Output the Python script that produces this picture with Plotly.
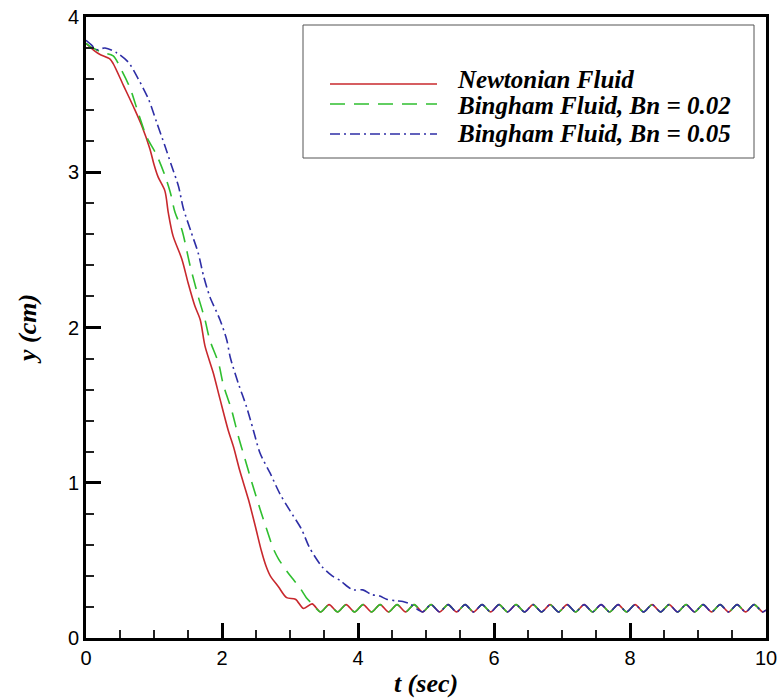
import plotly.graph_objects as go

# ---- data ----
newt_t = [0.0, 0.13, 0.2, 0.35, 0.4, 0.55, 0.7, 0.82, 0.94, 1.0, 1.06, 1.16, 1.21, 1.28,
          1.41, 1.5, 1.6, 1.68, 1.75, 1.87, 1.97, 2.09, 2.17, 2.26, 2.39, 2.49, 2.58,
          2.65, 2.71, 2.83, 2.95, 3.08, 3.2, 3.325]
newt_y = [3.83, 3.78, 3.76, 3.73, 3.70, 3.56, 3.42, 3.30, 3.15, 3.05, 2.97, 2.88, 2.74, 2.59,
          2.44, 2.29, 2.14, 2.05, 1.88, 1.71, 1.54, 1.34, 1.23, 1.08, 0.89, 0.72, 0.56,
          0.46, 0.40, 0.33, 0.26, 0.25, 0.19, 0.22]

bn02_t = [0.0, 0.1, 0.25, 0.4, 0.52, 0.65, 0.77, 0.89, 1.04, 1.16, 1.24, 1.31, 1.41, 1.53,
          1.65, 1.75, 1.82, 1.95, 2.02, 2.14, 2.24, 2.34, 2.44, 2.56, 2.68, 2.75, 2.83,
          2.97, 3.06, 3.15, 3.24, 3.325]
bn02_y = [3.83, 3.80, 3.77, 3.75, 3.66, 3.54, 3.38, 3.23, 3.11, 2.98, 2.87, 2.74, 2.63, 2.40,
          2.20, 2.05, 1.92, 1.77, 1.63, 1.47, 1.30, 1.15, 1.00, 0.83, 0.67, 0.58, 0.51,
          0.42, 0.37, 0.32, 0.26, 0.22]

bn05_t = [0.0, 0.08, 0.15, 0.28, 0.45, 0.62, 0.77, 0.92, 1.04, 1.16, 1.26, 1.36, 1.43, 1.55,
          1.65, 1.73, 1.82, 1.97, 2.07, 2.12, 2.24, 2.36, 2.46, 2.56, 2.71, 2.85, 3.0,
          3.17, 3.29, 3.47, 3.62, 3.74, 3.85, 3.93, 4.07, 4.2, 4.32, 4.42, 4.55, 4.66,
          4.76, 4.89]
bn05_y = [3.85, 3.82, 3.79, 3.80, 3.77, 3.71, 3.60, 3.47, 3.32, 3.17, 3.04, 2.91, 2.77, 2.61,
          2.48, 2.33, 2.20, 2.05, 1.92, 1.81, 1.64, 1.49, 1.34, 1.19, 1.06, 0.93, 0.82,
          0.70, 0.58, 0.46, 0.40, 0.37, 0.33, 0.31, 0.31, 0.28, 0.27, 0.25, 0.24, 0.235,
          0.22, 0.18]

# common settled oscillation (peaks and troughs)
tail_t = [3.45, 3.575, 3.7, 3.825, 3.95, 4.075, 4.2, 4.325, 4.45, 4.575, 4.7, 4.825,
          4.95, 5.075, 5.2, 5.325, 5.45, 5.575, 5.7, 5.825, 5.95, 6.075, 6.2, 6.325,
          6.45, 6.575, 6.7, 6.825, 6.95, 7.075, 7.2, 7.325, 7.45, 7.575, 7.7, 7.825,
          7.95, 8.075, 8.2, 8.325, 8.45, 8.575, 8.7, 8.825, 8.95, 9.075, 9.2, 9.325,
          9.45, 9.575, 9.7, 9.825, 9.95, 10.0]
tail_y = [0.168, 0.215, 0.168, 0.215, 0.168, 0.215, 0.168, 0.215, 0.168, 0.215, 0.168, 0.215,
          0.168, 0.215, 0.168, 0.215, 0.168, 0.215, 0.168, 0.215, 0.168, 0.215, 0.168, 0.215,
          0.168, 0.215, 0.168, 0.215, 0.168, 0.215, 0.168, 0.215, 0.168, 0.215, 0.168, 0.215,
          0.168, 0.215, 0.168, 0.215, 0.168, 0.215, 0.168, 0.215, 0.168, 0.215, 0.168, 0.215,
          0.168, 0.215, 0.168, 0.215, 0.168, 0.18]

series_names = ["Newtonian Fluid", "Bingham Fluid, Bn = 0.02", "Bingham Fluid, Bn = 0.05"]
tail_start = [3.45, 3.45, 4.95]

x_tick_vals = [0, 2, 4, 6, 8, 10]
y_tick_vals = [0, 1, 2, 3, 4]


def join_tail(t, y, start):
    tt = list(t)
    yy = list(y)
    for tv, yv in zip(tail_t, tail_y):
        if tv >= start:
            tt.append(tv)
            yy.append(yv)
    return tt, yy


colors = ["#c8282d", "#2fbf2f", "#2e2ea6"]
dashes = ["solid", "15px,9px", "10px,4px,2px,4px"]
raw = [(newt_t, newt_y), (bn02_t, bn02_y), (bn05_t, bn05_y)]

fig = go.Figure()
for (t, y), name, st, c, d in zip(raw, series_names, tail_start, colors, dashes):
    tt, yy = join_tail(t, y, st)
    fig.add_trace(go.Scatter(
        x=tt, y=yy, mode="lines", name=name,
        line=dict(color=c, width=1.6, dash=d, shape="spline", smoothing=0.8),
        showlegend=False,
    ))

# ---- manual legend (long line samples as in the reference) ----
X0, X1, Y0, Y1 = 86.0, 766.0, 638.0, 17.0


def px(x):
    return (x - X0) / (X1 - X0)


def py(y):
    return (Y0 - y) / (Y0 - Y1)


shapes = [dict(type="rect", xref="paper", yref="paper",
               x0=px(303), x1=px(754), y0=py(158), y1=py(25),
               line=dict(color="#555555", width=1), fillcolor="white", layer="above")]
annotations = []
line_rows = [84, 104, 134]
text_rows = [79, 106, 134]
for name, c, d, lr, tr in zip(series_names, colors, dashes, line_rows, text_rows):
    shapes.append(dict(type="line", xref="paper", yref="paper",
                       x0=px(330), x1=px(437), y0=py(lr), y1=py(lr),
                       line=dict(color=c, width=1.6, dash=d), layer="above"))
    annotations.append(dict(xref="paper", yref="paper", x=px(455), y=py(tr),
                            xanchor="left", yanchor="middle", showarrow=False,
                            text="<b><i>" + name + "</i></b>",
                            font=dict(family="Liberation Serif, Times New Roman, serif",
                                      size=25, color="black")))

axis_common = dict(
    showline=True, linecolor="black", linewidth=3, mirror=True,
    ticks="inside", ticklen=15, tickwidth=3, tickcolor="black",
    showgrid=False, zeroline=False, automargin=False,
    tickfont=dict(family="Liberation Sans, Arial, sans-serif", size=20, color="black"),
)

fig.update_layout(
    width=782, height=698,
    margin=dict(l=86, r=16, t=17, b=60),
    paper_bgcolor="white", plot_bgcolor="white",
    shapes=shapes, annotations=annotations,
    xaxis=dict(range=[0, 10], tickvals=x_tick_vals,
               minor=dict(dtick=0.5, tick0=0, ticks="inside", ticklen=8, tickwidth=1.5,
                          tickcolor="#222222"),
               title=dict(text="<b><i>t (sec)</i></b>", standoff=10,
                          font=dict(family="Liberation Serif, Times New Roman, serif",
                                    size=26, color="black")),
               **axis_common),
    yaxis=dict(range=[0, 4], tickvals=y_tick_vals,
               minor=dict(dtick=0.2, tick0=0, ticks="inside", ticklen=8, tickwidth=1.5,
                          tickcolor="#222222"),
               title=dict(text="<b><i>y (cm)</i></b>", standoff=24,
                          font=dict(family="Liberation Serif, Times New Roman, serif",
                                    size=26, color="black")),
               **axis_common),
)

fig.write_html("out.html", config={"displayModeBar": False},
               post_script="document.body.style.margin='0px';document.body.style.overflow='hidden';")
